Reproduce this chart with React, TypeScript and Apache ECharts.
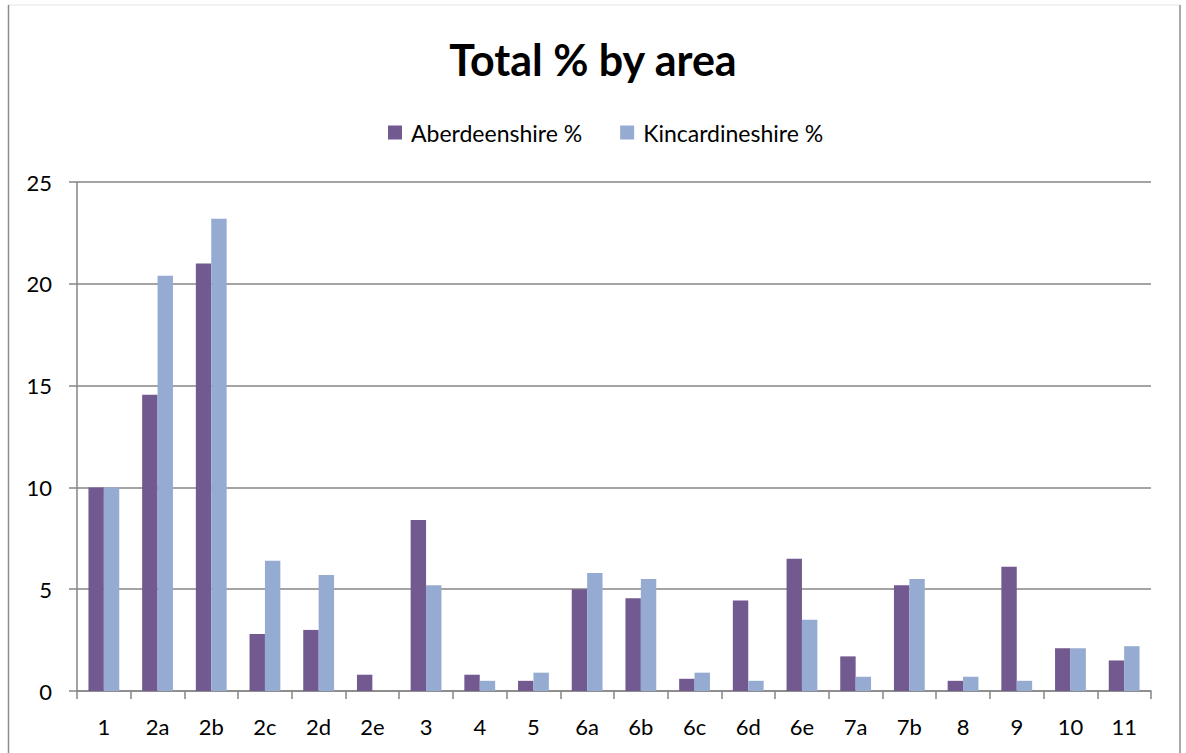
import React, { useEffect, useRef } from "react";
import * as echarts from "echarts";

const categories = ["1", "2a", "2b", "2c", "2d", "2e", "3", "4", "5", "6a", "6b", "6c", "6d", "6e", "7a", "7b", "8", "9", "10", "11"];
const aberdeenshire = [10.0, 14.55, 21.0, 2.8, 3.0, 0.8, 8.4, 0.8, 0.5, 5.0, 4.55, 0.6, 4.45, 6.5, 1.7, 5.2, 0.5, 6.1, 2.1, 1.5];
const kincardineshire = [10.0, 20.4, 23.2, 6.4, 5.7, 0, 5.2, 0.5, 0.9, 5.8, 5.5, 0.9, 0.5, 3.5, 0.7, 5.5, 0.7, 0.5, 2.1, 2.2];
const seriesNames = ["Aberdeenshire %", "Kincardineshire %"];
const titleText = "Total % by area";

const FONT = "Lato, 'Open Sans', sans-serif";

export default function App() {
  const ref = useRef<HTMLDivElement>(null);
  useEffect(() => {
    document.body.style.margin = "0";
    const chart = echarts.init(ref.current!, null, { renderer: "svg" });
    chart.setOption({
      animation: false,
      backgroundColor: "#ffffff",
      title: {
        text: titleText,
        left: "center",
        top: 33,
        textStyle: { fontFamily: FONT, fontSize: 43, fontWeight: "bold", color: "#000000" },
      },
      legend: {
        data: seriesNames,
        left: 383,
        top: 116,
        itemWidth: 14,
        itemHeight: 14,
        itemGap: 38,
        icon: "rect",
        textStyle: { fontFamily: FONT, fontSize: 23, color: "#000000", padding: [0, 0, 0, 4] },
      },
      graphic: [
        { type: "line", shape: { x1: 8, y1: 5, x2: 1180, y2: 5 }, style: { stroke: "#e4e4e4", lineWidth: 1 } },
        { type: "line", shape: { x1: 8.5, y1: 5, x2: 8.5, y2: 753 }, style: { stroke: "#8c8c8c", lineWidth: 1.5 } },
        { type: "line", shape: { x1: 1180, y1: 5, x2: 1180, y2: 753 }, style: { stroke: "#8c8c8c", lineWidth: 1.5 } },
      ],
      grid: { left: 77, right: 35, top: 182, bottom: 62, containLabel: false },
      xAxis: {
        type: "category",
        data: categories,
        axisLine: { lineStyle: { color: "#868686", width: 1.5 } },
        axisTick: { show: true, length: 8, lineStyle: { color: "#868686", width: 1.5 } },
        axisLabel: { fontFamily: FONT, fontSize: 22, color: "#000000", margin: 24, interval: 0 },
      },
      yAxis: {
        type: "value",
        min: 0,
        max: 25,
        interval: 5,
        axisLine: { show: true, lineStyle: { color: "#868686", width: 1.5 } },
        axisTick: { show: true, length: 8, lineStyle: { color: "#868686", width: 1.5 } },
        splitLine: { lineStyle: { color: "#868686", width: 1.5 } },
        axisLabel: { fontFamily: FONT, fontSize: 22, color: "#000000", margin: 25 },
      },
      series: [
        {
          name: seriesNames[0],
          type: "bar",
          data: aberdeenshire,
          barWidth: 15.4,
          barGap: "0%",
          itemStyle: { color: "#725990" },
        },
        {
          name: seriesNames[1],
          type: "bar",
          data: kincardineshire,
          barWidth: 15.4,
          barGap: "0%",
          itemStyle: { color: "#95abd1" },
        },
      ],
    });
    return () => chart.dispose();
  }, []);
  return <div ref={ref} style={{ width: 1186, height: 753 }} />;
}
